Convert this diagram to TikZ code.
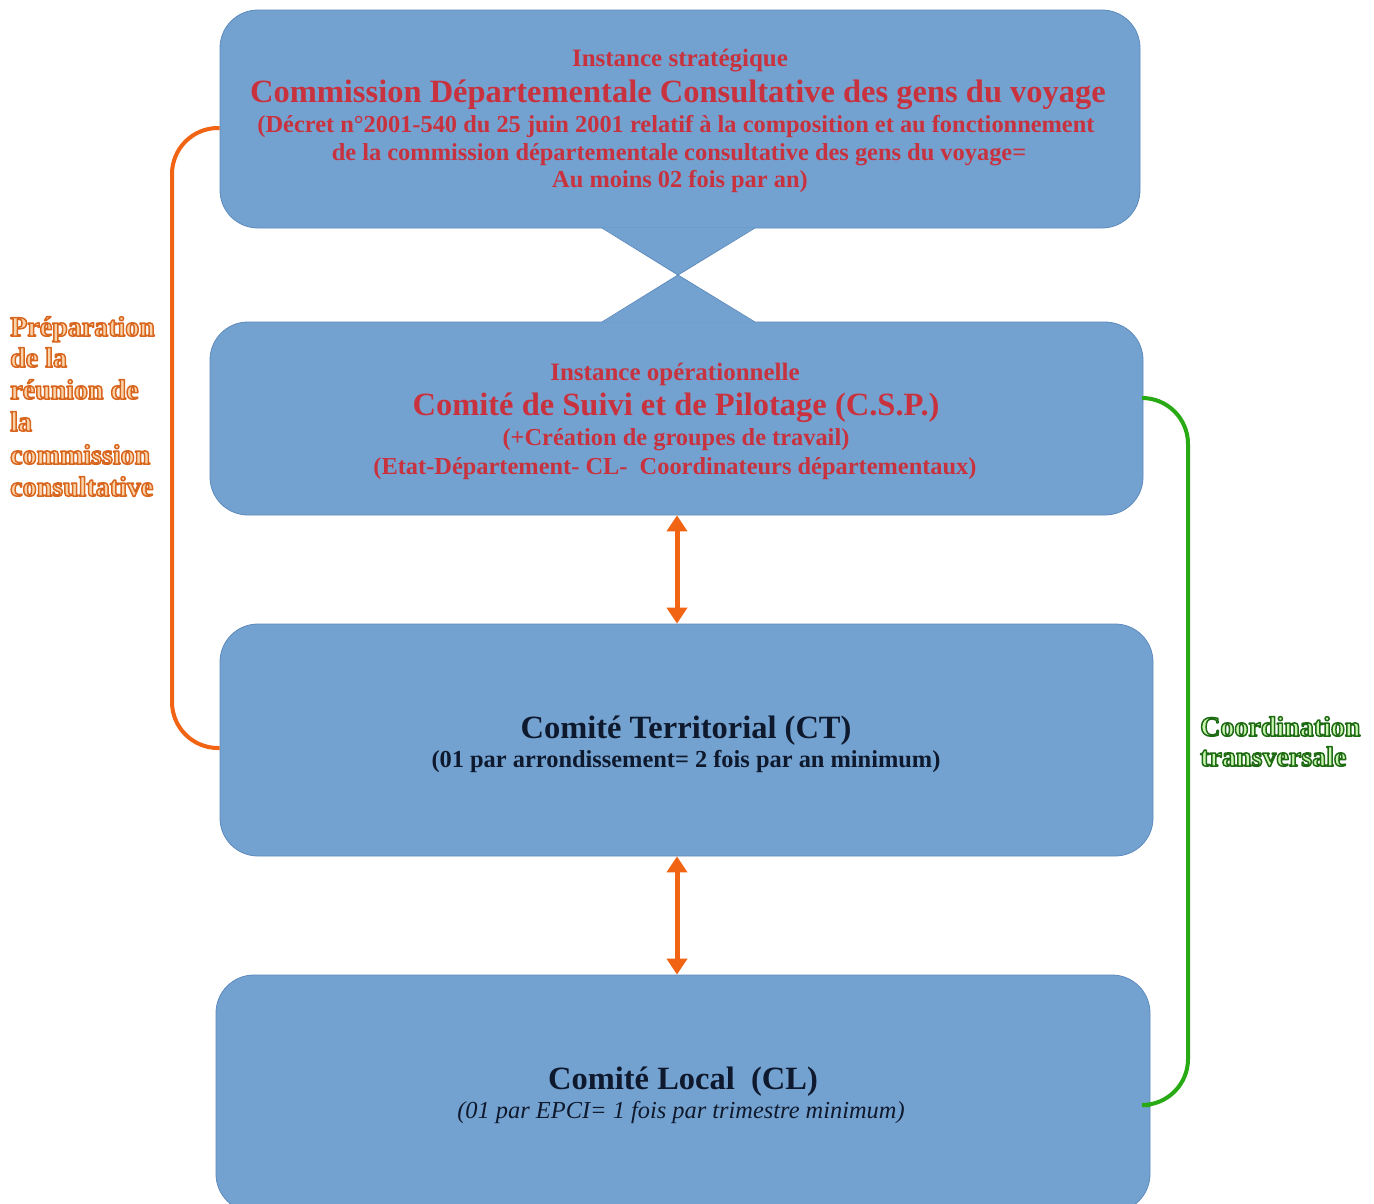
\documentclass[tikz,border=0pt]{standalone}
\usepackage{fontspec}
\setmainfont{Liberation Serif}
\usetikzlibrary{arrows.meta,calc}
\definecolor{boxblue}{RGB}{116,162,208}
\definecolor{boxedge}{RGB}{92,138,188}
\definecolor{redtxt}{RGB}{200,50,62}
\definecolor{darktxt}{RGB}{15,25,45}
\definecolor{orangeline}{RGB}{240,100,20}
\definecolor{greenline}{RGB}{40,170,20}
\definecolor{orfill}{RGB}{252,212,170}
\definecolor{grfill}{RGB}{200,245,175}
\newcommand{\fs}[1]{\fontsize{#1}{#1}\selectfont}
% outlined text: fill + stroke rendering mode
\newcommand{\outlinetxt}[2]{\special{pdf:literal direct q 2 Tr 1.5 w 1 j #1 RG}#2\special{pdf:literal direct Q}}
\newcommand{\ortxt}[1]{\outlinetxt{0.85 0.40 0.12}{#1}}
\newcommand{\grtxt}[1]{\outlinetxt{0.12 0.42 0.08}{#1}}
\tikzset{
  box/.style={draw=boxedge,line width=0.8pt,fill=boxblue,rounded corners=38pt,inner sep=0pt},
  txt/.style={inner sep=0pt,anchor=base,font=\bfseries},
  lbl/.style={inner sep=0pt,anchor=base west,font=\bfseries\fs{28}},
  dblarrow/.style={draw=orangeline,line width=5pt,{Triangle[width=20pt,length=16pt]}-{Triangle[width=20pt,length=16pt]}},
  bracket/.style={line width=4pt,rounded corners=46pt}
}
\begin{document}
\begin{tikzpicture}[x=1pt,y=-1pt]
\useasboundingbox[fill=white] (0,0) rectangle (1374,1203);
% boxes
\node[box,minimum width=920pt,minimum height=218pt] (b1) at (680,119) {};
\node[box,minimum width=933pt,minimum height=193pt] (b2) at (676.5,418.5) {};
\node[box,minimum width=933pt,minimum height=232pt] (b3) at (686.5,740) {};
\node[box,minimum width=934pt,minimum height=237pt] (b4) at (683,1093.5) {};
% hourglass connector
\coordinate (hc) at (678,275);
\fill[boxblue] (602,227.5) -- (755,227.5) -- (hc) -- cycle;
\fill[boxblue] (602,322.5) -- (755,322.5) -- (hc) -- cycle;
\draw[boxedge,line width=0.8pt] (602,228) -- (hc) -- (755,228);
\draw[boxedge,line width=0.8pt] (602,322) -- (hc) -- (755,322);
% box 1 text
\node[txt,text=redtxt,font=\bfseries\fs{25}] (t1a) at (680,66) {Instance stratégique};
\node[txt,text=redtxt,font=\bfseries\fs{32.5}] (t1b) at (678,102) {Commission Départementale Consultative des gens du voyage};
\node[txt,text=redtxt,font=\bfseries\fs{24.4}] (t1c) at (676,132) {(Décret n°2001-540 du 25 juin 2001 relatif à la composition et au fonctionnement};
\node[txt,text=redtxt,font=\bfseries\fs{24.4}] (t1d) at (679,160) {de la commission départementale consultative des gens du voyage=};
\node[txt,text=redtxt,font=\bfseries\fs{24.4}] (t1e) at (680,187) {Au moins 02 fois par an)};
% box 2 text
\node[txt,text=redtxt,font=\bfseries\fs{25}] (t2a) at (675,380) {Instance opérationnelle};
\node[txt,text=redtxt,font=\bfseries\fs{32.5}] (t2b) at (676,415) {Comité de Suivi et de Pilotage (C.S.P.)};
\node[txt,text=redtxt,font=\bfseries\fs{24.4}] (t2c) at (676,445) {(+Création de groupes de travail)};
\node[txt,text=redtxt,font=\bfseries\fs{24.4}] (t2d) at (675,474) {(Etat-Département- CL-\ \ Coordinateurs départementaux)};
% box 3 text
\node[txt,text=darktxt,font=\bfseries\fs{32.5}] (t3a) at (686,738) {Comité Territorial (CT)};
\node[txt,text=darktxt,font=\bfseries\fs{24.4}] (t3b) at (686,767) {(01 par arrondissement= 2 fois par an minimum)};
% box 4 text
\node[txt,text=darktxt,font=\bfseries\fs{32.5}] (t4a) at (683,1089) {Comité Local\ \ (CL)};
\node[txt,text=darktxt,font=\itshape\fs{24.4}] (t4b) at (681,1118) {(01 par EPCI= 1 fois par trimestre minimum)};
% arrows
\draw[dblarrow] (b2.south -| 677,0) -- (b3.north -| 677,0);
\draw[dblarrow] (b3.south -| 677,0) -- (b4.north -| 677,0);
% brackets
\draw[bracket,orangeline] (b1.west |- 0,128) -- (172,128) -- (172,748) -- (b3.west |- 0,748);
\draw[bracket,greenline] (b2.east |- 0,398) -- (1188,398) -- (1188,1105) -- (b4.east |- 0,1105);
% side labels
\node[lbl,text=orfill] (l1) at (10,336) {\ortxt{Préparation}};
\node[lbl,text=orfill] (l2) at (10,367) {\ortxt{de la}};
\node[lbl,text=orfill] (l3) at (10,399) {\ortxt{réunion de}};
\node[lbl,text=orfill] (l4) at (10,431) {\ortxt{la}};
\node[lbl,text=orfill] (l5) at (10,464) {\ortxt{commission}};
\node[lbl,text=orfill] (l6) at (10,496) {\ortxt{consultative}};
\node[lbl,text=grfill] (r1) at (1200,736) {\grtxt{Coordination}};
\node[lbl,text=grfill] (r2) at (1200,766) {\grtxt{transversale}};
\end{tikzpicture}
\end{document}
